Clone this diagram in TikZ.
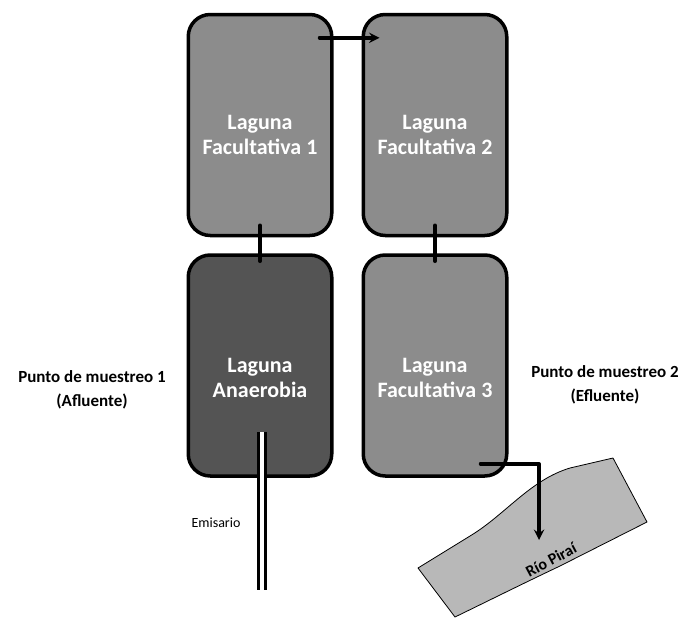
\documentclass[tikz,border=0pt]{standalone}
\usepackage{fontspec}
\setmainfont{Carlito}
\definecolor{facul}{gray}{0.55}
\definecolor{anaer}{gray}{0.33}
\definecolor{rio}{gray}{0.72}
\begin{document}
\begin{tikzpicture}[x=1pt,y=-1pt,line join=round,line cap=round,>=stealth]
\tikzset{laguna/.style={draw,line width=3.5pt,rounded corners=22pt,minimum width=143.5pt,minimum height=221pt},
  flujo/.style={line width=3.5pt},
  rotulo/.style={text=white,align=center,font=\fontsize{22}{25}\selectfont\bfseries},
  muestreo/.style={align=center,font=\fontsize{17}{24}\selectfont\bfseries}}
\useasboundingbox (0,0) rectangle (683,619);
% lagunas
\node[laguna,fill=facul] (lf1) at (260,125) {};
\node[laguna,fill=facul] (lf2) at (435,125) {};
\node[laguna,fill=anaer] (ana) at (260,365.5) {};
\node[laguna,fill=facul] (lf3) at (435,365.5) {};
\node[rotulo] (lf1txt) at ([yshift=-10]lf1.center) {Laguna\\Facultativa 1};
\node[rotulo] (lf2txt) at ([yshift=-10]lf2.center) {Laguna\\Facultativa 2};
\node[rotulo] (anatxt) at ([yshift=-12]ana.center) {Laguna\\Anaerobia};
\node[rotulo] (lf3txt) at ([yshift=-12]lf3.center) {Laguna\\Facultativa 3};
% flujo entre lagunas
\draw[flujo,->] ([xshift=-14,yshift=-25]lf1.north east) -- ([xshift=18,yshift=-25]lf2.north west);
\draw[flujo] ([yshift=12]lf1.south) -- ([yshift=-8]ana.north);
\draw[flujo] ([yshift=12]lf2.south) -- ([yshift=-8]lf3.north);
% emisario
\coordinate (emi) at (262,590);
\draw[line width=3pt,double=white,double distance=4pt,line cap=butt] ([xshift=2,yshift=46]ana.south) -- (emi);
\node[font=\fontsize{14}{16}\selectfont] (emitxt) at (216,523) {Emisario};
% rio
\draw[thick,fill=rio] (418,568) -- (470,536) .. controls (505,515) and (530,480) .. (570,468)
  -- (613,458) -- (647,522) -- (560,566) .. controls (520,585) and (490,600) .. (455,617) -- cycle;
\node[rotate=28,font=\fontsize{16}{18}\selectfont\bfseries] (riotxt) at (551,560) {Río Piraí};
\coordinate (riopunto) at (539,540);
\draw[flujo,->] ([xshift=-28,yshift=14]lf3.south east) -| (riopunto);
% puntos de muestreo
\node[muestreo] (pm1) at (92,390) {Punto de muestreo 1\\(Afluente)};
\node[muestreo] (pm2) at (605,385) {Punto de muestreo 2\\(Efluente)};
\end{tikzpicture}
\end{document}
